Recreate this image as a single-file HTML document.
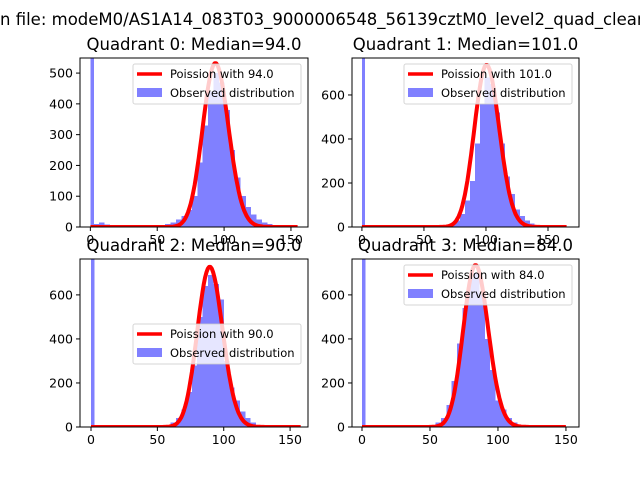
<!DOCTYPE html>
<html><head><meta charset="utf-8"><style>
body{margin:0;background:#fff;width:640px;height:480px;overflow:hidden}
svg{display:block;font-family:"DejaVu Sans","Liberation Sans",sans-serif}
</style></head><body>
<svg id="fig" width="640" height="480">
<text x="0" y="25" font-size="16.5" fill="#000">n file: modeM0/AS1A14_083T03_9000006548_56139cztM0_level2_quad_clean</text>
</svg>
<script>
// Data arrays
const medians = [94, 101, 90, 84];
const binWidths = [4, 4, 4, 4];
const zeroBinHeights = [2000, 2000, 2000, 2000];
const lowBins0 = [10, 15, 8, 5];
const binStarts = [56, 63, 56, 50];
const counts0 = [10,15,25,35,55,100,210,330,440,500,470,380,250,160,100,65,40,25,15,10,5];
const counts1 = [5,10,15,30,60,120,210,380,560,680,650,520,380,230,150,80,50,30,15,8,5];
const counts2 = [10,20,40,80,160,280,500,640,690,650,580,300,180,120,70,40,20,10,5];
const counts3 = [10,20,40,100,210,380,540,680,700,600,400,260,120,80,40,20,10,5];
const curvePeaks = [532, 736, 727, 735];
const curveEnds = [155, 165, 158, 150];
const yTicks0 = [0,100,200,300,400,500];
const yTicks1 = [0,200,400,600];
const xTicks = [0,50,100,150];
const titles = ["Quadrant 0: Median=94.0","Quadrant 1: Median=101.0","Quadrant 2: Median=90.0","Quadrant 3: Median=84.0"];

const allCounts=[counts0,counts1,counts2,counts3];
const yTickSets=[yTicks0,yTicks1,yTicks1,yTicks1];
const axes=[
 {l:80,r:308,t:58,b:227,xmin:-7.75,xmax:162.75,ymax:549,legY:64},
 {l:352,r:579,t:58,b:227,xmin:-8,xmax:175,ymax:768,legY:64},
 {l:80,r:308,t:259,b:427,xmin:-8.3,xmax:163.5,ymax:763,legY:324},
 {l:352,r:579,t:259,b:427,xmin:-7.35,xmax:159.6,ymax:763,legY:265}
];
const NS="http://www.w3.org/2000/svg";
const fig=document.getElementById('fig');
function mk(tag,attrs,parent){const e=document.createElementNS(NS,tag);for(const k in attrs)e.setAttribute(k,attrs[k]);(parent||fig).appendChild(e);return e;}
function lgamma(n){let s=0;for(let i=2;i<=n;i++)s+=Math.log(i);return s;}
axes.forEach((A,q)=>{
  const g=mk('g',{});
  
  
  const X=v=>A.l+(v-A.xmin)/(A.xmax-A.xmin)*(A.r-A.l);
  const Y=v=>A.b-v/A.ymax*(A.b-A.t);
  const cp=mk('clipPath',{id:'cp'+q},g);
  mk('rect',{x:A.l,y:A.t,width:A.r-A.l,height:A.b-A.t},cp);
  const pg=mk('g',{'clip-path':'url(#cp'+q+')'},g);
  const bw=binWidths[q];
  function bar(x0,h,name,w){
    const r=mk('rect',{x:X(x0),y:Y(h),width:X(x0+w)-X(x0)+0.4,height:A.b-Y(h),fill:'#8080ff','shape-rendering':'crispEdges'},pg);
    
    
  }
  bar(0,zeroBinHeights[q],'bar-zero',2.3);
  if(q===0) lowBins0.forEach((h,i)=>bar(bw*(i+0.6),h,'bar-low',bw));
  allCounts[q].forEach((h,i)=>bar(binStarts[q]+i*bw,h,'bar',bw));
  const m=medians[q];const peak=Math.exp(m*Math.log(m)-m-lgamma(m));
  let d='';
  for(let k=0;k<=curveEnds[q];k++){
    const p=Math.exp(k*Math.log(Math.max(m,1e-9))-m-lgamma(k))/peak*curvePeaks[q];
    d+=(k?'L':'M')+X(k).toFixed(1)+','+Y(p).toFixed(1);
  }
  const c=mk('path',{d:d,fill:'none',stroke:'#ff0000','stroke-width':4,'stroke-linejoin':'round'},pg);
  
  
  mk('rect',{x:A.l,y:A.t,width:A.r-A.l,height:A.b-A.t,fill:'none',stroke:'#000','stroke-width':1},g);
  xTicks.forEach(v=>{
    if(v>A.xmax)return;
    mk('line',{x1:X(v),x2:X(v),y1:A.b,y2:A.b+4,stroke:'#000'},g);
    const t=mk('text',{x:X(v),y:A.b+17,'font-size':12.5,'text-anchor':'middle'},g);t.textContent=v;
    
    
  });
  yTickSets[q].forEach(v=>{
    mk('line',{x1:A.l-4,x2:A.l,y1:Y(v),y2:Y(v),stroke:'#000'},g);
    const t=mk('text',{x:A.l-7,y:Y(v)+4.5,'font-size':12.5,'text-anchor':'end'},g);t.textContent=v;
    
    
  });
  const tt=mk('text',{x:(A.l+A.r)/2,y:A.t-8,'font-size':16.5,'text-anchor':'middle'},g);tt.textContent=titles[q];
  
  
  const lg=mk('g',{},g);
  
  
  const lx=A.r-175,ly=A.legY;
  mk('rect',{x:lx,y:ly,width:168,height:40,rx:2,fill:'#fff','fill-opacity':0.8,stroke:'#ccc','stroke-opacity':0.8},lg);
  mk('line',{x1:lx+4,x2:lx+29,y1:ly+10,y2:ly+10,stroke:'#ff0000','stroke-width':3.5},lg);
  const t1=mk('text',{x:lx+37,y:ly+14,'font-size':11.5},lg);t1.textContent='Poission with '+medians[q].toFixed(1);
  mk('rect',{x:lx+4,y:ly+24,width:25,height:9,fill:'#8080ff'},lg);
  const t2=mk('text',{x:lx+37,y:ly+33,'font-size':11.5},lg);t2.textContent='Observed distribution';
});
</script>
</body></html>
